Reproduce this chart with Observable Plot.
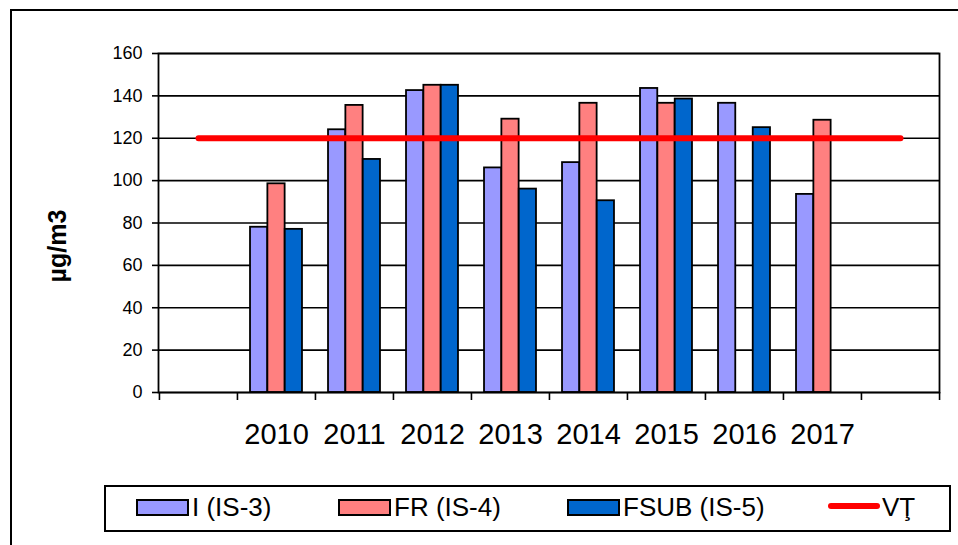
<!DOCTYPE html>
<html><head><meta charset="utf-8">
<script src="https://cdn.jsdelivr.net/npm/d3@7"></script>
<script src="https://cdn.jsdelivr.net/npm/@observablehq/plot@0.6"></script>
<style>
body{margin:0;width:958px;height:545px;overflow:hidden;background:#fff;font-family:"Liberation Sans",Arial,sans-serif;position:relative}
#outer{position:absolute;left:10px;top:9px;width:2000px;height:2000px;border-left:2px solid #000;border-top:2px solid #000}
#chart{position:absolute;left:0;top:0}
#ylabel{position:absolute;left:57px;top:246px;transform:translate(-50%,-50%) rotate(-90deg);font-weight:bold;font-size:25px;white-space:nowrap}
#legend{position:absolute;left:104px;top:485px;width:843px;height:43px;border:2px solid #000;background:#fff}
.sw{position:absolute;top:12px;width:49px;height:13px;border:2px solid #000}
.lt{position:absolute;top:5px;font-size:26px;line-height:30px;white-space:nowrap}
.ln{position:absolute;top:16px;width:52px;height:6px;border-radius:3px;background:#FF0000}
</style>
</head><body>
<div id="outer"></div>
<div id="chart"></div>
<div id="ylabel">µg/m3</div>
<div id="legend"></div>
<script>
const years = ["", "2010", "2011", "2012", "2013", "2014", "2015", "2016", "2017", " "];
const seriesNames = ["I (IS-3)", "FR (IS-4)", "FSUB (IS-5)"];
const seriesColors = ["#9999FF", "#FF8080", "#0066CC"];
const valuesI    = [null, 78, 124, 142.5, 106, 108.5, 143.5, 136.5, 93.5, null];
const valuesFR   = [null, 98.5, 135.5, 145, 129, 136.5, 136.5, null, 128.5, null];
const valuesFSUB = [null, 77, 110, 145, 96, 90.5, 138.5, 125, null, null];
const vtName = "VŢ";
const vtValue = 120;
const yTicks = [0, 20, 40, 60, 80, 100, 120, 140, 160];

const W = 958, ML = 158, MR = 19, MT = 53, H = 480, MB = H - 392;
const bw = (W - ML - MR) / years.length;
const side = bw / 6, barW = bw * 2 / 9;

const seriesValues = [valuesI, valuesFR, valuesFSUB];
const barMarks = seriesValues.map((vals, i) => {
  const rows = years.map((y, k) => ({year: y, value: vals[k]})).filter(d => d.value != null);
  return Plot.barY(rows, {
    x: "year", y: "value", fill: seriesColors[i], stroke: "#000", strokeWidth: 1.8,
    insetLeft: side + i * barW, insetRight: bw - side - (i + 1) * barW
  });
});
const vtLine = [{year: years[0], value: vtValue}, {year: years[years.length - 1], value: vtValue}];

const chart = Plot.plot({
  width: W, height: H,
  marginLeft: ML, marginRight: MR, marginTop: MT, marginBottom: MB,
  style: {fontFamily: "'Liberation Sans', Arial, sans-serif", color: "#000", background: "transparent"},
  x: {type: "band", domain: years, padding: 0, axis: null},
  y: {domain: [0, 160], axis: null},
  marks: [
    Plot.gridY(yTicks, {stroke: "#000", strokeOpacity: 1, strokeWidth: 1.6}),
    Plot.axisY({ticks: yTicks, tickSize: 6, tickPadding: 10, fontSize: 18, label: null, strokeWidth: 1.6, tickFormat: d => d}),
    Plot.axisX({ticks: years, tickSize: 8, strokeWidth: 1.6, dx: -bw / 2, tickFormat: () => "", label: null}),
    Plot.axisX({ticks: [years[years.length - 1]], tickSize: 8, strokeWidth: 1.6, dx: bw / 2, tickFormat: () => "", label: null}),
    Plot.axisX({ticks: years, tickSize: 0, tickPadding: 31, fontSize: 29, tickFormat: d => d.trim(), label: null}),
    ...barMarks,
    Plot.frame({stroke: "#000", strokeWidth: 1.8}),
    Plot.lineY(vtLine, {x: "year", y: "value", stroke: "#FF0000", strokeWidth: 6, strokeLinecap: "round"})
  ]
});
document.getElementById("chart").appendChild(chart);

const legend = document.getElementById("legend");
const swLeft = [30, 232, 461];
seriesNames.forEach((n, i) => {
  const s = document.createElement("div");
  s.className = "sw"; s.style.left = swLeft[i] + "px"; s.style.background = seriesColors[i];
  legend.appendChild(s);
  const t = document.createElement("div");
  t.className = "lt"; t.style.left = (swLeft[i] + 56) + "px"; t.textContent = n;
  legend.appendChild(t);
});
const l = document.createElement("div");
l.className = "ln"; l.style.left = "722px"; legend.appendChild(l);
const lt = document.createElement("div");
lt.className = "lt"; lt.style.left = "776px"; lt.textContent = vtName; legend.appendChild(lt);
</script>
</body></html>
